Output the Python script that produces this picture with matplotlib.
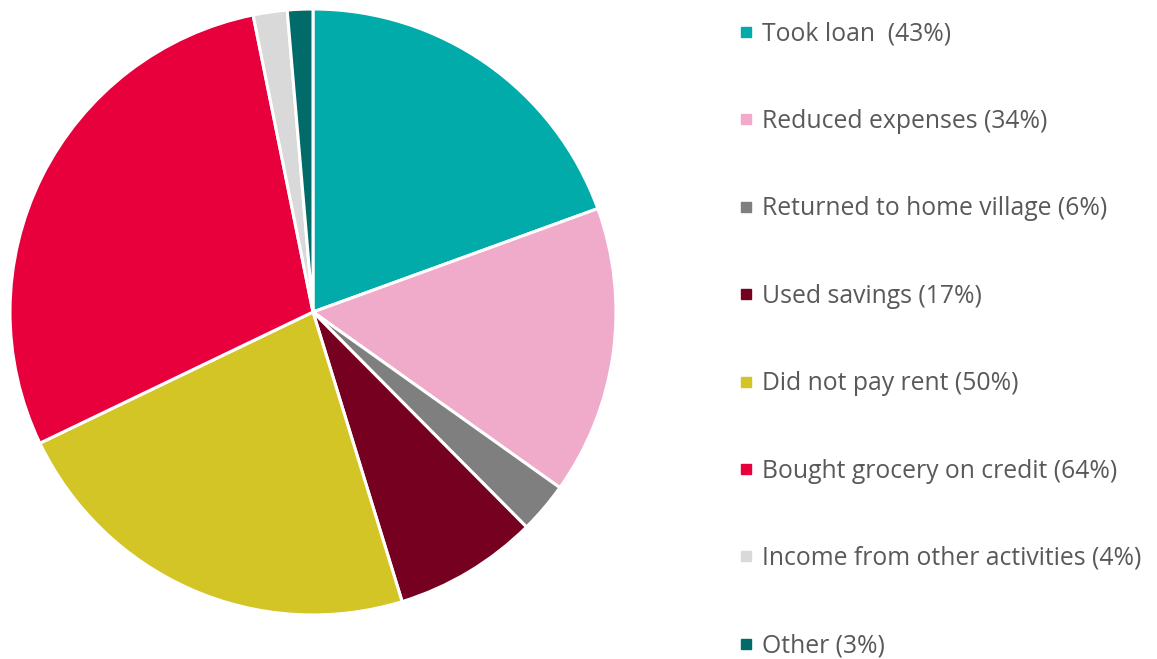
import matplotlib.pyplot as plt
from matplotlib.patches import Rectangle

labels = ["Took loan  (43%)", "Reduced expenses (34%)", "Returned to home village (6%)",
          "Used savings (17%)", "Did not pay rent (50%)", "Bought grocery on credit (64%)",
          "Income from other activities (4%)", "Other (3%)"]
values = [43, 34, 6, 17, 50, 64, 4, 3]
colors = ["#00ABA9", "#F0AACA", "#7F7F7F", "#76001F", "#D4C526", "#E8003C", "#D9D9D9", "#006B68"]

W, H = 1157, 659
fig = plt.figure(figsize=(W / 100, H / 100), dpi=100)

# pie area in pixels: x 10..616, y 9..615
ax = fig.add_axes([10 / W, (H - 615) / H, 606 / W, 606 / H])
ax.pie(values, colors=colors, startangle=90, counterclock=False, radius=1,
       wedgeprops=dict(edgecolor="white", linewidth=2.2))
ax.set_xlim(-1.0, 1.0)
ax.set_ylim(-1.0, 1.0)
ax.set_aspect("equal")
ax.axis("off")

# legend, drawn by hand
y0, step = 32, 87.4
for i, (lab, col) in enumerate(zip(labels, colors)):
    y = y0 + i * step
    fig.patches.append(Rectangle((741 / W, (H - y - 5) / H), 10 / W, 10 / H,
                                 transform=fig.transFigure, color=col))
    fig.text(762 / W, (H - y - 2) / H, lab, fontsize=17.8, color="#595959",
             family="Open Sans", va="center", ha="left")

fig.savefig("out.png", dpi=100)
